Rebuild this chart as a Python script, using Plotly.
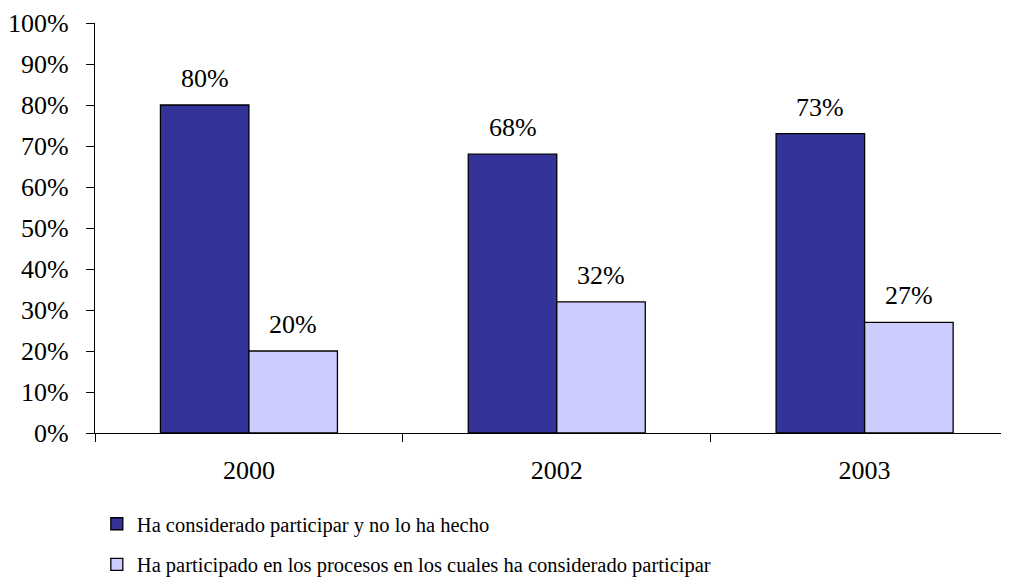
import plotly.graph_objects as go

# --- data ------------------------------------------------------------------ #
years = ["2000", "2002", "2003"]
considered_not_done = [80, 68, 73]
participated = [20, 32, 27]
series_names = [
    "Ha considerado participar y no lo ha hecho",
    "Ha participado en los procesos en los cuales ha considerado participar",
]
y_ticks = [0, 10, 20, 30, 40, 50, 60, 70, 80, 90, 100]
y_tick_text = [f"{t}%" for t in y_ticks]

DARK = "#333399"
LIGHT = "#CCCCFF"
FONT = "Liberation Serif"
BARGAP = 0.425

fig = go.Figure()
for name, vals, color, grp in [
    (series_names[0], considered_not_done, DARK, "a"),
    (series_names[1], participated, LIGHT, "b"),
]:
    fig.add_trace(go.Bar(
        x=years, y=vals, name=name, legendgroup=grp,
        marker=dict(color=color, line=dict(color="black", width=1.3)),
        hoverinfo="skip",
    ))

# value labels above each bar (offset = half of one bar's slot in the group)
off = (1 - BARGAP) / 4
annotations = []
for i, (a, b) in enumerate(zip(considered_not_done, participated)):
    for dx, v in ((-off, a), (off, b)):
        annotations.append(dict(
            x=i + dx, y=v, xref="x", yref="y", text=f"{v}%",
            showarrow=False, yanchor="bottom", yshift=10,
            font=dict(family=FONT, size=26, color="black"),
        ))

# page body has an 8px margin, so the figure is sized/offset to compensate
fig.update_layout(
    width=1001, height=570,
    margin=dict(l=87, r=0, t=15, b=145, autoexpand=False),
    paper_bgcolor="white", plot_bgcolor="white",
    barmode="group", bargap=BARGAP, bargroupgap=0,
    font=dict(family=FONT, size=26, color="black"),
    annotations=annotations,
    showlegend=True,
    legend=dict(
        orientation="v", x=0.002, xanchor="left", y=-0.173, yanchor="top",
        font=dict(family=FONT, size=20.5, color="black"),
        tracegroupgap=11, traceorder="grouped",
    ),
    xaxis=dict(
        type="category", range=[-0.5, 2.469], automargin=False,
        showline=True, linecolor="black", linewidth=1.3,
        ticks="outside", tickson="boundaries", ticklen=8, tickcolor="black",
        ticklabelstandoff=14, showgrid=False, zeroline=False,
    ),
    yaxis=dict(
        range=[0, 100], tickvals=y_ticks, ticktext=y_tick_text,
        automargin=False,
        showline=True, linecolor="black", linewidth=1.3,
        ticks="outside", ticklen=8, tickcolor="black",
        ticklabelstandoff=12, showgrid=False, zeroline=False,
    ),
)

fig.write_html("out.html")
